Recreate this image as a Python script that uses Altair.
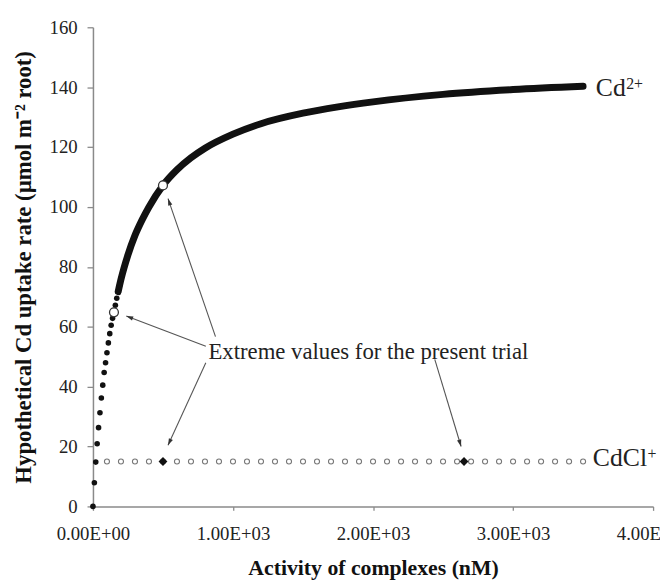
import math
import altair as alt
import pandas as pd

# ---------------- data ----------------
# Cd2+ : separate dots at low activity
cd_dot_x = [0, 10, 20, 30, 40, 50, 60, 70, 80, 90, 100, 110, 120, 130, 140, 150, 160, 170, 180, 190, 200]
cd_dot_y = [0, 7.9, 14.8, 20.9, 26.3, 31.3, 36.2, 40.5, 44.7, 48.0, 51.3, 54.6, 57.7, 60.5, 62.8,
            64.8, 67.2, 69.5, 71.7, 73.8, 75.8]
# Cd2+ : dense part (dots merge into a thick band)
cd_line_x = [180, 200, 250, 300, 350, 400, 500, 600, 700, 800, 1000, 1200, 1500, 1750, 2000, 2500, 3000, 3500]
cd_line_y = [71.7, 75.8, 84.0, 90.5, 95.6, 100.0, 107.2, 112.4, 116.4, 119.6, 124.3, 127.8, 131.3, 133.4,
             135.1, 137.6, 139.2, 140.3]
# CdCl+ : open circles
cdcl_x = [100, 200, 300, 400, 500, 600, 700, 800, 900, 1000, 1100, 1200, 1300, 1400, 1500, 1600, 1700,
          1800, 1900, 2000, 2100, 2200, 2300, 2400, 2500, 2600, 2700, 2800, 2900, 3000, 3100, 3200,
          3300, 3400, 3500]
cdcl_y = [15, 15, 15, 15, 15, 15, 15, 15, 15, 15, 15, 15, 15, 15, 15, 15, 15, 15, 15, 15, 15, 15, 15,
          15, 15, 15, 15, 15, 15, 15, 15, 15, 15, 15, 15]
# extreme values of the present trial
trial_cd_x = [150, 500]
trial_cd_y = [64.8, 107.2]
trial_cdcl_x = [500, 2650]
trial_cdcl_y = [15, 15]

# annotation arrows (start near text -> end near point)
arrow_x1 = [806, 875, 806, 2441]
arrow_y1 = [53.5, 56.7, 48.0, 49.1]
arrow_x2 = [238, 536, 536, 2629]
arrow_y2 = [63.6, 102.8, 20.4, 20.0]
note_text = ["Extreme values for the present trial"]
note_x = [825]
note_y = [51.7]

# series labels
label_text = ["Cd", "2+", "CdCl", "+"]
label_x = [3591, 3808, 3570, 3960]
label_y = [136.9, 139.5, 13.4, 15.8]
label_size = [26, 16, 26, 16]

x_tick_values = [0, 1000, 2000, 3000, 4000]
x_tick_labels = ["0.00E+00", "1.00E+03", "2.00E+03", "3.00E+03", "4.00E+03"]
y_tick_values = [0, 20, 40, 60, 80, 100, 120, 140, 160]

# ---------------- layout ----------------
W, H = 567, 485
XMAX, YMAX = 4000, 160
FONT = "Liberation Serif, Times New Roman, serif"

label_expr = "[" + ",".join("'%s'" % s for s in x_tick_labels) + "][indexof([" + \
    ",".join(str(v) for v in x_tick_values) + "], datum.value)]"

x_axis = alt.Axis(values=x_tick_values, labelExpr=label_expr, title="Activity of complexes (nM)",
                  tickSize=4, labelPadding=14, labelFlush=False, titleY=69, titleBaseline="alphabetic",
                  titleFontSize=22)
y_axis = alt.Axis(values=y_tick_values, title="Hypothetical Cd uptake rate (\u00b5mol m\u207b\u00b2 root)",
                  tickSize=6, labelPadding=10, labelFlush=False, titleX=-63, titleBaseline="alphabetic",
                  titleFontSize=23)
xs = alt.Scale(domain=[0, XMAX], nice=False, zero=False)
ys = alt.Scale(domain=[0, YMAX], nice=False, zero=False)


def X(f):
    return alt.X(f, type="quantitative", scale=xs, axis=x_axis)


def Y(f):
    return alt.Y(f, type="quantitative", scale=ys, axis=y_axis)


dots = pd.DataFrame({"x": cd_dot_x, "y": cd_dot_y})
band = pd.DataFrame({"x": cd_line_x, "y": cd_line_y})
cdcl = pd.DataFrame({"x": cdcl_x, "y": cdcl_y})
tcd = pd.DataFrame({"x": trial_cd_x, "y": trial_cd_y})
tcl = pd.DataFrame({"x": trial_cdcl_x, "y": trial_cdcl_y})

# arrow heads: orientation in screen pixels
hx, hy, ha = [], [], []
for x1, y1, x2, y2 in zip(arrow_x1, arrow_y1, arrow_x2, arrow_y2):
    dxp = (x2 - x1) * W / XMAX
    dyp = -(y2 - y1) * H / YMAX
    L = math.hypot(dxp, dyp)
    ux, uy = dxp / L, dyp / L
    back = 4.0
    hx.append(x2 - ux * back * XMAX / W)
    hy.append(y2 + uy * back * YMAX / H)
    ha.append(math.degrees(math.atan2(ux, -uy)) % 360)
arrows = pd.DataFrame({"x1": arrow_x1, "y1": arrow_y1, "x2": arrow_x2, "y2": arrow_y2})
heads = pd.DataFrame({"x": hx, "y": hy, "a": ha})
notes = pd.DataFrame({"x": note_x, "y": note_y, "t": note_text})
labels = pd.DataFrame({"x": label_x, "y": label_y, "t": label_text, "s": label_size})

l_cdcl = alt.Chart(cdcl).mark_point(shape="circle", size=26, filled=False, stroke="#767676",
                                    strokeWidth=1.1, fill="white", fillOpacity=1, opacity=1).encode(x=X("x"), y=Y("y"))
l_tcl = alt.Chart(tcl).mark_point(shape="diamond", size=80, filled=True, color="#111", opacity=1).encode(
    x=X("x"), y=Y("y"))
l_band = alt.Chart(band).mark_line(color="#111", strokeWidth=7, strokeCap="round", strokeJoin="round",
                                   interpolate="monotone").encode(x=X("x"), y=Y("y"))
l_dots = alt.Chart(dots).mark_point(shape="circle", size=32, filled=True, color="#111", opacity=1).encode(
    x=X("x"), y=Y("y"))
l_tcd = alt.Chart(tcd).mark_point(shape="circle", size=81, filled=False, fill="white", fillOpacity=1,
                                  stroke="#333", strokeWidth=1.3, opacity=1).encode(x=X("x"), y=Y("y"))
l_arrows = alt.Chart(arrows).mark_rule(color="#555", strokeWidth=1.1).encode(
    x=X("x1"), y=Y("y1"), x2="x2", y2="y2")
l_heads = alt.Chart(heads).mark_point(shape="M0,-1L0.55,0.75L-0.55,0.75Z", size=64, filled=True,
                                      color="#333", opacity=1).encode(
    x=X("x"), y=Y("y"), angle=alt.Angle("a:Q", scale=None))
l_notes = alt.Chart(notes).mark_text(font=FONT, fontSize=23, align="left", baseline="middle",
                                     color="#222").encode(x=X("x"), y=Y("y"), text="t:N")
l_labels = alt.Chart(labels).mark_text(font=FONT, align="left", baseline="alphabetic", color="#222").encode(
    x=X("x"), y=Y("y"), text="t:N", size=alt.Size("s:Q", scale=None, legend=None))

chart = alt.layer(l_cdcl, l_tcl, l_band, l_dots, l_tcd, l_arrows, l_heads, l_notes, l_labels).properties(
    width=W, height=H,
    padding={"left": 86, "top": 16, "right": 7, "bottom": 74},
    autosize=alt.AutoSizeParams(type="none"),
    background="white",
).configure_view(stroke=None).configure_axis(
    grid=False, domainColor="#8a8a8a", domainWidth=1.5, tickColor="#8a8a8a", tickWidth=1.3,
    labelFont=FONT, labelFontSize=19, labelColor="#222", titleFont=FONT, titleFontWeight="bold",
    titleColor="#111",
)

chart.save("out.html", embed_options={"renderer": "svg", "actions": False})
